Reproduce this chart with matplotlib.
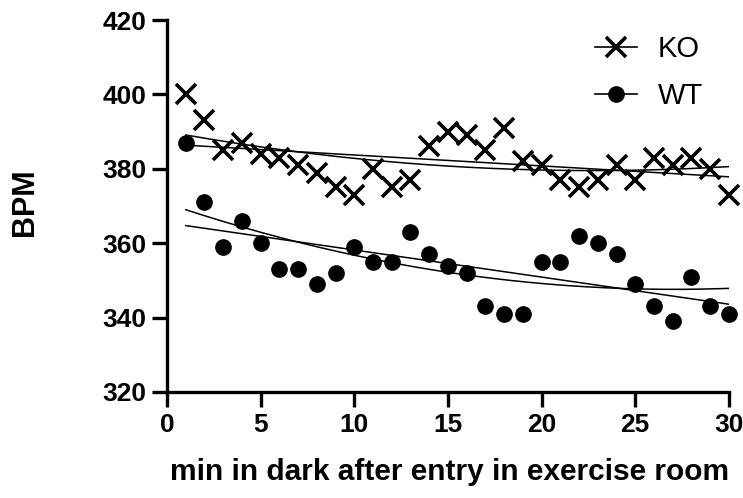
import matplotlib
matplotlib.use('Agg')
import matplotlib.pyplot as plt
import numpy as np

plt.rcParams['font.family'] = ['Liberation Sans', 'DejaVu Sans']

minutes = np.arange(1, 31)
ko = [400, 393, 385, 387, 384, 383, 381, 379, 375, 373,
      380, 375, 377, 386, 390, 389, 385, 391, 382, 381,
      377, 375, 377, 381, 377, 383, 381, 383, 380, 373]
wt = [387, 371, 359, 366, 360, 353, 353, 349, 352, 359,
      355, 355, 363, 357, 354, 352, 343, 341, 341, 355,
      355, 362, 360, 357, 349, 343, 339, 351, 343, 341]

fig = plt.figure(figsize=(7.43, 4.98), dpi=100)
ax = fig.add_axes([0.2248, 0.2129, 0.7562, 0.7469])

ax.plot(minutes, ko, 'x', color='black', ms=15, mew=2.6, clip_on=False)
ax.plot(minutes, wt, 'o', color='black', ms=11, clip_on=False)

# linear and quadratic fits for each group
xf = np.linspace(1, 30, 200)
for ys in (ko, wt):
    for deg in (1, 2):
        p = np.polyfit(minutes, ys, deg)
        ax.plot(xf, np.polyval(p, xf), color='black', lw=1.1)

ax.set_xlim(0, 30)
ax.set_ylim(320, 420)
ax.set_xticks([0, 5, 10, 15, 20, 25, 30])
ax.set_yticks([320, 340, 360, 380, 400, 420])
for s in ('top', 'right'):
    ax.spines[s].set_visible(False)
for s in ('left', 'bottom'):
    ax.spines[s].set_linewidth(2.4)
ax.tick_params(width=2.4, length=11, labelsize=19, pad=4)
for lb in ax.get_xticklabels() + ax.get_yticklabels():
    lb.set_fontweight('bold')

ax.set_ylabel('BPM', fontsize=22, fontweight='bold')
ax.yaxis.set_label_coords(-0.226, 0.51)
ax.set_xlabel('min in dark after entry in exercise room', fontsize=21.5,
              fontweight='bold')
ax.xaxis.set_label_coords(0.502, -0.177)

h1, = ax.plot([], [], '-x', color='black', ms=15, mew=2.6, lw=1.2)
h2, = ax.plot([], [], '-o', color='black', ms=11, lw=1.2)
ax.legend([h1, h2], ['KO', 'WT'], loc='upper right', bbox_to_anchor=(1.0, 1.03),
          frameon=False, fontsize=21, handlelength=1.45, handletextpad=0.7,
          labelspacing=0.65)

fig.savefig('out.png', dpi=100)
